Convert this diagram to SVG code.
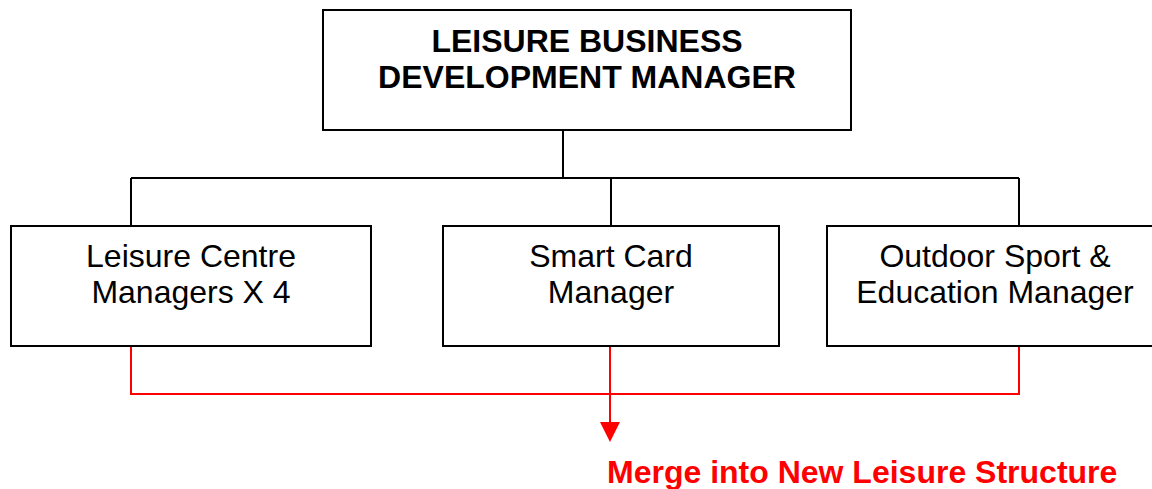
<svg xmlns="http://www.w3.org/2000/svg" width="1152" height="489" viewBox="0 0 1152 489">
<style>
.box{fill:#fff;stroke:#000;stroke-width:2}
.t{font-family:"Liberation Sans",Arial,sans-serif;font-size:32px;fill:#000;text-anchor:middle}
.b{font-weight:bold}
.blk{fill:none;stroke:#000;stroke-width:2}
.red{fill:none;stroke:#ff0000;stroke-width:2}
</style>
<rect width="1152" height="489" fill="#fff"/>
<g id="connectors">
<path class="blk" d="M563,130 V178 M131,178 H1019 M131,178 V226 M611,178 V226 M1019,178 V226"/>
<path class="red" d="M131,346 V394 H1019 V346"/>
<path class="red" d="M610,346 V424"/>
<polygon points="600,422 620,422 610,442" fill="#ff0000"/>
</g>
<g id="top">
<rect class="box" x="323" y="10" width="528" height="120"/>
<text class="t b" x="587" y="52">LEISURE BUSINESS</text>
<text class="t b" x="587" y="88">DEVELOPMENT MANAGER</text>
</g>
<g id="leisure-centre">
<rect class="box" x="11" y="226" width="360" height="120"/>
<text class="t" x="191" y="267">Leisure Centre</text>
<text class="t" x="191" y="303">Managers X 4</text>
</g>
<g id="smart-card">
<rect class="box" x="443" y="226" width="336" height="120"/>
<text class="t" x="611" y="267">Smart Card</text>
<text class="t" x="611" y="303">Manager</text>
</g>
<g id="outdoor">
<rect class="box" x="827" y="226" width="340" height="120"/>
<text class="t" x="995" y="267">Outdoor Sport &amp;</text>
<text class="t" x="995" y="303">Education Manager</text>
</g>
<text class="t b" x="607" y="483" style="text-anchor:start;fill:#ff0000">Merge into New Leisure Structure</text>
</svg>
